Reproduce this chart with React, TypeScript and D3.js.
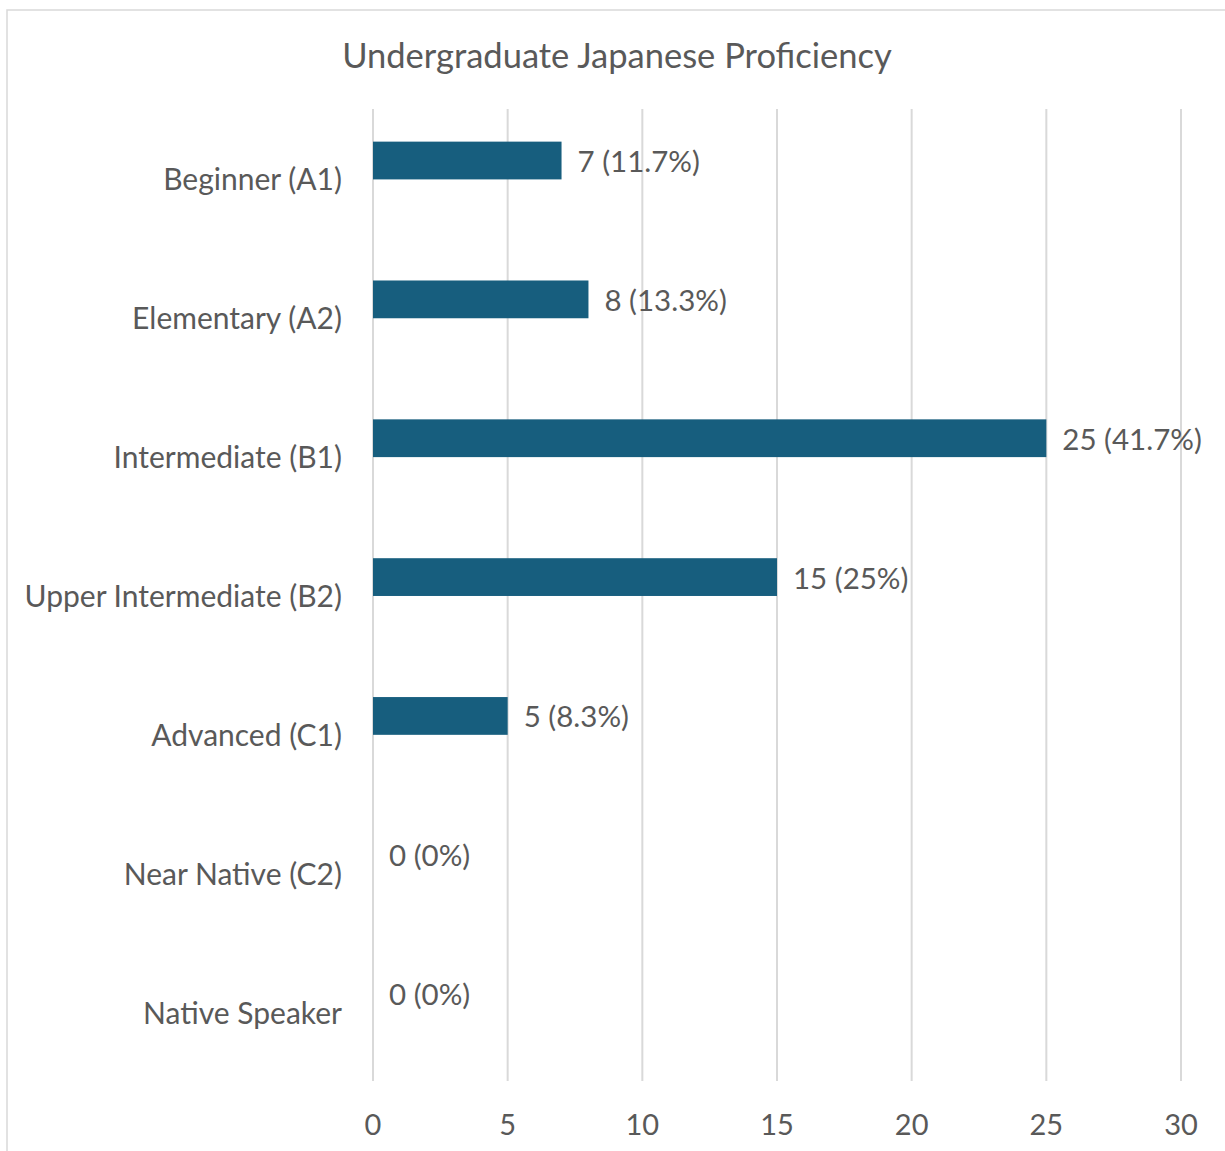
import { useMemo } from 'react';
import * as d3 from 'd3';

const title = 'Undergraduate Japanese Proficiency';
const categories = [
  'Beginner (A1)',
  'Elementary (A2)',
  'Intermediate (B1)',
  'Upper Intermediate (B2)',
  'Advanced (C1)',
  'Near Native (C2)',
  'Native Speaker',
];
const counts = [7, 8, 25, 15, 5, 0, 0];
const percentLabels = ['11.7%', '13.3%', '41.7%', '25%', '8.3%', '0%', '0%'];
const xTicks = [0, 5, 10, 15, 20, 25, 30];

const W = 1225;
const H = 1151;
const FONT = 'Lato, "Noto Sans", sans-serif';
const TEXT = '#595959';
const GRID = '#d9d9d9';
const BAR = '#175e7e';

export default function App() {
  const x = useMemo(() => d3.scaleLinear().domain([0, 30]).range([373, 1181]), []);
  const y = useMemo(
    () => d3.scaleBand<string>().domain(categories).range([109, 1081]).padding(0),
    []
  );
  const bw = y.bandwidth();
  const barTop = bw * 0.235;
  const barH = bw * 0.272;

  return (
    <div style={{ position: 'absolute', left: 0, top: 0 }}>
      <svg width={W} height={H} viewBox={`0 0 ${W} ${H}`} style={{ display: 'block', background: '#fff' }}>
        {/* chart border (cropped at right/bottom) */}
        <rect x={7} y={10} width={W + 10} height={H + 10} fill="#fff" stroke={GRID} strokeWidth={1.5} />

        <text
          x={617}
          y={54}
          textAnchor="middle"
          dominantBaseline="central"
          fill={TEXT}
          fontFamily={FONT}
          fontSize={34.5}
        >
          {title}
        </text>

        {/* vertical gridlines */}
        {xTicks.map((t) => (
          <line key={t} x1={x(t)} x2={x(t)} y1={109} y2={1081} stroke={GRID} strokeWidth={2} />
        ))}

        {/* bars */}
        {categories.map((c, i) => (
          <rect
            key={c}
            x={x(0)}
            y={(y(c) ?? 0) + barTop}
            width={x(counts[i]) - x(0)}
            height={barH}
            fill={BAR}
          />
        ))}

        {/* value labels */}
        {categories.map((c, i) => (
          <text
            key={c}
            x={x(counts[i]) + 16}
            y={(y(c) ?? 0) + barTop + barH / 2}
            dominantBaseline="central"
            fill={TEXT}
            fontFamily={FONT}
            fontSize={29.5}
          >
            {`${counts[i]} (${percentLabels[i]})`}
          </text>
        ))}

        {/* category labels */}
        {categories.map((c) => (
          <text
            key={c}
            x={342}
            y={(y(c) ?? 0) + bw / 2}
            textAnchor="end"
            dominantBaseline="central"
            fill={TEXT}
            fontFamily={FONT}
            fontSize={30}
          >
            {c}
          </text>
        ))}

        {/* x tick labels */}
        {xTicks.map((t) => (
          <text
            key={t}
            x={x(t)}
            y={1123}
            textAnchor="middle"
            dominantBaseline="central"
            fill={TEXT}
            fontFamily={FONT}
            fontSize={29}
          >
            {t}
          </text>
        ))}
      </svg>
    </div>
  );
}
